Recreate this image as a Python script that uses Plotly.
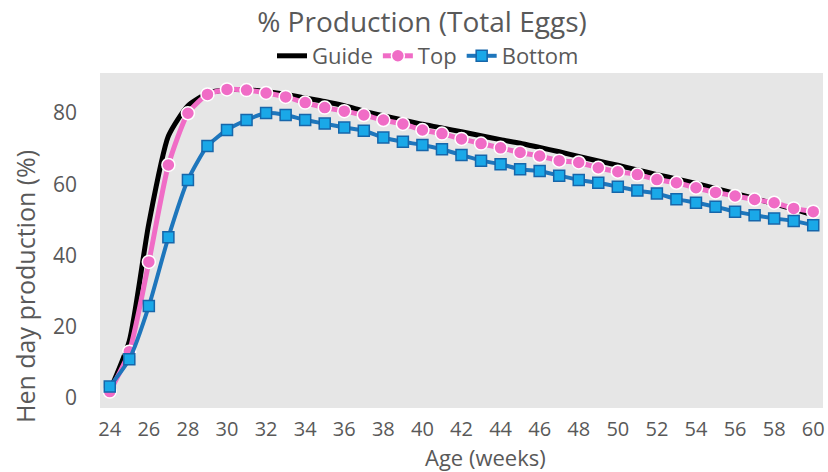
import plotly.graph_objects as go

weeks = list(range(24, 61))

guide = [2, 16, 49, 73.5, 82, 85.5, 86.5, 86.5, 86, 85.2, 84.2, 83.2, 82, 80.5,
         79.2, 78, 76.8, 75.8, 74.7, 73.6, 72.5, 71.5, 70.3, 69.1, 67.8, 66.5,
         65.3, 64, 62.7, 61.5, 60.2, 58.8, 57.4, 56, 54.5, 53, 51.3]

top = [1.8, 13, 38.2, 65.4, 79.9, 85.2, 86.6, 86.4, 85.6, 84.5, 82.9, 81.5, 80.5,
       79.4, 78.0, 76.9, 75.2, 74.2, 72.7, 71.4, 70.2, 68.9, 67.9, 66.6, 66.1,
       64.6, 63.5, 62.7, 61.3, 60.4, 59.0, 57.7, 56.7, 55.7, 54.8, 53.2, 52.3]

bottom = [3.2, 10.9, 25.8, 45.1, 61.2, 70.7, 75.2, 78.0, 80.0, 79.4, 78.0, 77.0,
          75.9, 75.0, 73.1, 71.9, 71.0, 69.8, 68.2, 66.6, 65.6, 64.2, 63.7, 62.4,
          61.2, 60.4, 59.3, 58.2, 57.4, 55.8, 54.8, 53.7, 52.3, 51.3, 50.4, 49.7, 48.5]

x_ticks = list(range(24, 61, 2))
y_ticks = [0, 20, 40, 60, 80]

FONT = "Open Sans"
GRAY = "#595959"

W, H = 828, 472
ML, MR, MT, MB = 100, 5, 73, 64
pw = W - ML - MR
ph = H - MT - MB

fig = go.Figure()
fig.add_trace(go.Scatter(x=weeks, y=guide, name="Guide", mode="lines",
                         line=dict(color="#000000", width=5, shape="spline", smoothing=0.6)))
fig.add_trace(go.Scatter(x=weeks, y=top, name="Top", mode="lines+markers",
                         line=dict(color="#F06CC6", width=5, shape="spline", smoothing=0.6),
                         marker=dict(symbol="circle", size=13, color="#F06CC6",
                                     line=dict(color="#FFFFFF", width=1.5))))
fig.add_trace(go.Scatter(x=weeks, y=bottom, name="Bottom", mode="lines+markers",
                         line=dict(color="#1E76BC", width=4, shape="spline", smoothing=0.6),
                         marker=dict(symbol="square", size=11, color="#1AA8E8",
                                     line=dict(color="#1666AA", width=1.5))))

fig.update_layout(
    width=W, height=H,
    margin=dict(l=ML, r=MR, t=MT, b=MB, autoexpand=False),
    paper_bgcolor="#FFFFFF",
    plot_bgcolor="#E6E6E6",
    font=dict(family=FONT, color=GRAY, size=21),
    title=dict(text="% Production (Total Eggs)", x=422 / W, xref="container",
               xanchor="center", y=1 - 22 / H, yref="container", yanchor="middle",
               font=dict(size=28, color=GRAY, family=FONT)),
    legend=dict(orientation="h", x=428 / W, xref="container", xanchor="center",
                y=1 - 56 / H, yref="container", yanchor="middle",
                font=dict(size=22, color=GRAY, family=FONT),
                itemwidth=30, tracegroupgap=0, bgcolor="rgba(0,0,0,0)"),
    showlegend=True,
    annotations=[
        dict(text="Age (weeks)", xref="paper", yref="paper",
             x=(485 - ML) / pw, y=-(457 - (H - MB)) / ph,
             xanchor="center", yanchor="middle", showarrow=False,
             font=dict(size=22, color=GRAY, family=FONT)),
        dict(text="Hen day production (%)", textangle=-90, xref="paper", yref="paper",
             x=(25 - ML) / pw, y=((H - MB) - 287) / ph,
             xanchor="center", yanchor="middle", showarrow=False,
             font=dict(size=25, color=GRAY, family=FONT)),
    ],
)

fig.update_xaxes(range=[23.5, 60.5], tickvals=x_ticks, ticktext=[str(v) for v in x_ticks],
                 showgrid=False, zeroline=False, showline=False, ticks="",
                 ticklabelstandoff=7, tickfont=dict(size=20, color=GRAY, family=FONT))
fig.update_yaxes(range=[-2.8, 91.2], tickvals=y_ticks, ticktext=[str(v) for v in y_ticks],
                 showgrid=False, zeroline=False, showline=False, ticks="",
                 ticklabelstandoff=22, tickfont=dict(size=21, color=GRAY, family=FONT))

fig.write_html("out.html",
               config={"displayModeBar": False},
               post_script="document.body.style.margin='0';document.body.style.overflow='hidden';")
